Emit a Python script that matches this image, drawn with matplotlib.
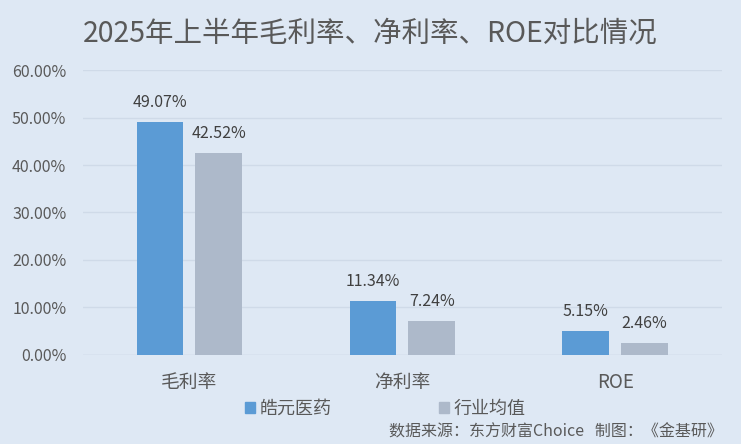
import matplotlib
matplotlib.use("Agg")
import matplotlib.pyplot as plt
import numpy as np
from matplotlib.patches import Patch

plt.rcParams['font.family'] = ['Noto Sans CJK SC', 'DejaVu Sans']

categories = ["毛利率", "净利率", "ROE"]
company = [49.07, 11.34, 5.15]
industry = [42.52, 7.24, 2.46]
series_names = ["皓元医药", "行业均值"]
yticks = [0, 10, 20, 30, 40, 50, 60]

bg = "#dee8f4"
c1 = "#5b9bd5"
c2 = "#adb9ca"
tc = "#595959"

fig = plt.figure(figsize=(7.41, 4.44), dpi=100, facecolor=bg)
ax = fig.add_axes([0.112, 0.2005, 0.862, 0.6418], facecolor=bg)

x = np.arange(len(categories))
w = 0.22
off = 0.138
b1 = ax.bar(x - off, company, w, color=c1, zorder=3)
b2 = ax.bar(x + off, industry, w, color=c2, zorder=3)

for bars, vals in ((b1, company), (b2, industry)):
    for r, v in zip(bars, vals):
        ax.text(r.get_x() + r.get_width() / 2, v + 2.3, f"{v:.2f}%",
                ha="center", va="bottom", fontsize=11.5, color="#404040")

ax.set_xlim(-0.5, 2.5)
ax.set_ylim(0, 60)
ax.set_yticks(yticks)
ax.set_yticklabels([f"{t:.2f}%" for t in yticks], fontsize=11.5, color=tc)
ax.set_xticks(x)
ax.set_xticklabels(categories, fontsize=13.5, color=tc)
ax.tick_params(axis="both", length=0)
ax.tick_params(axis="y", pad=12)
ax.tick_params(axis="x", pad=12)
ax.grid(axis="y", color="#cfdae8", linewidth=1, zorder=0)
for s in ax.spines.values():
    s.set_visible(False)
ax.axhline(0, color="#cfdae8", linewidth=1, zorder=2)

fig.text(0.112, 0.925, "2025年上半年毛利率、净利率、ROE对比情况", fontsize=20.5,
         color=tc, ha="left", va="center")

handles = [Patch(color=c1), Patch(color=c2)]
fig.legend(handles, series_names, loc="center", bbox_to_anchor=(0.52, 0.08),
           ncol=2, frameon=False, fontsize=13, handlelength=0.55, handleheight=0.55,
           handletextpad=0.25, columnspacing=6.0, labelcolor=tc)

fig.text(0.975, 0.027, "数据来源：东方财富Choice   制图：《金基研》", fontsize=11.5,
         color=tc, ha="right", va="center")

fig.savefig("out.png", dpi=100, facecolor=bg)
